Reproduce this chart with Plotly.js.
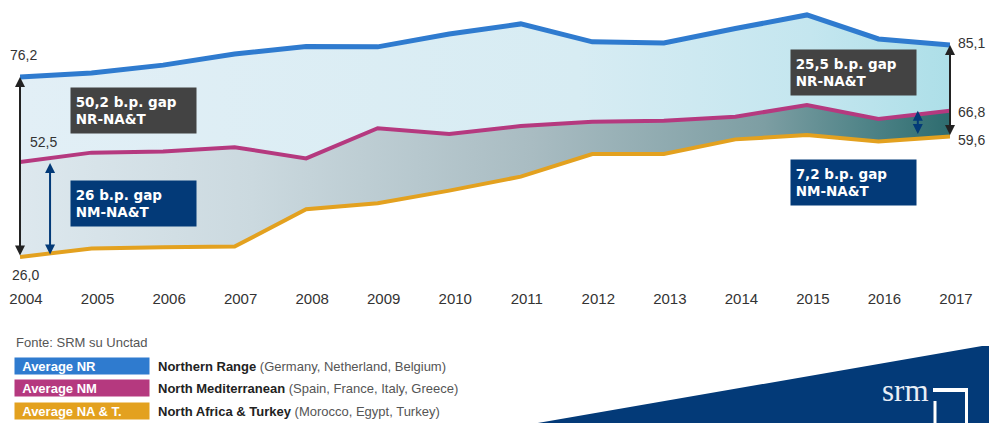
<!DOCTYPE html>
<html>
<head>
<meta charset="utf-8">
<script src="https://cdn.plot.ly/plotly-3.0.1.min.js"></script>
<style>html,body{margin:0;padding:0;background:#fff;}#chart{width:989px;height:423px;}</style>
</head>
<body>
<div id="chart"></div>
<script>
var years = [2004,2005,2006,2007,2008,2009,2010,2011,2012,2013,2014,2015,2016,2017];
var tickLabels = years.map(String);
var nr  = [76.2,77.3,79.5,82.6,84.7,84.6,88.2,91.0,86.0,85.7,89.7,93.5,86.8,85.1];
var nm  = [52.5,55.1,55.4,56.6,53.5,61.9,60.3,62.5,63.7,64.0,65.1,68.4,64.5,66.8];
var nat = [26.0,28.4,28.7,28.9,39.3,41.0,44.5,48.4,54.7,54.7,58.8,60.0,58.2,59.6];
var gapLabels = ["50,2 b.p. gap","NR-NA&T","26 b.p. gap","NM-NA&T","25,5 b.p. gap","NR-NA&T","7,2 b.p. gap","NM-NA&T"];
var legendTags = ["Average NR","Average NM","Average NA & T."];
var legendNames = ["Northern Range","North Mediterranean","North Africa & Turkey"];
var legendCountries = ["(Germany, Netherland, Belgium)","(Spain, France, Italy, Greece)","(Morocco, Egypt, Turkey)"];
var source = "Fonte: SRM su Unctad";

var cNR = '#2f7bcf', cNM = '#b5397f', cNAT = '#e3a11f', navy = '#033a78', dgray = '#434343';

function esc(s){return s.replace(/&/g,'&amp;');}
function fmt(v){return v.toFixed(1).replace('.',',');}
// pixel -> paper helpers (plot area: x 20..950, y 5..285)
function px(x){return (x-20)/930;}
function py(y){return (285-y)/280;}

var last = years.length-1;

var traces = [
  {x:years, y:nat, mode:'lines', line:{color:cNAT, width:4}, hoverinfo:'skip'},
  {x:years, y:nm, mode:'lines', line:{color:cNM, width:4}, fill:'tonexty',
   fillgradient:{type:'horizontal', colorscale:[[0,'#dde8ee'],[0.25,'#cbd9df'],[0.55,'#a9bcc2'],[0.8,'#7d9ea3'],[0.92,'#4b8185'],[1,'#2e6c6f']]},
   hoverinfo:'skip'},
  {x:years, y:nr, mode:'lines', line:{color:cNR, width:5}, fill:'tonexty',
   fillgradient:{type:'horizontal', colorscale:[[0,'#e2eff6'],[0.6,'#d7ecf3'],[0.85,'#c4e6ef'],[1,'#addfe8']]},
   hoverinfo:'skip'}
];

var ann = [];
// value labels
ann.push({x:years[0], y:nr[0], text:fmt(nr[0]), xanchor:'left', yanchor:'bottom', xshift:-12, yshift:12});
ann.push({x:years[0], y:nm[0], text:fmt(nm[0]), xanchor:'left', yanchor:'bottom', xshift:8, yshift:10});
ann.push({x:years[0], y:nat[0], text:fmt(nat[0]), xanchor:'left', yanchor:'top', xshift:-10, yshift:-8});
ann.push({x:years[last], y:nr[last], text:fmt(nr[last]), xanchor:'left', yanchor:'middle', xshift:6, yshift:2});
ann.push({x:years[last], y:nm[last], text:fmt(nm[last]), xanchor:'left', yanchor:'middle', xshift:6, yshift:-1});
ann.push({x:years[last], y:nat[last], text:fmt(nat[last]), xanchor:'left', yanchor:'middle', xshift:6, yshift:-3});
ann.forEach(function(a){a.showarrow=false; a.font={family:'Liberation Sans, Arial', size:14, color:'#333'};});

// arrows
function arrow(x, y0, y1, col, w){
  ann.push({x:x, y:y0, ax:x, ay:y1, xref:'x', yref:'y', axref:'x', ayref:'y', text:'',
    showarrow:true, arrowhead:2, startarrowhead:2, arrowside:'end+start', arrowsize:1,
    arrowwidth:w, arrowcolor:col, standoff:0, startstandoff:0});
}
arrow(years[0], nr[0], nat[0], '#222', 2);
arrow(years[0]+0.42, nm[0]-0.3, nat[0]+0.3, navy, 2);
arrow(years[last], nr[last], nat[last], '#222', 2);
arrow(years[last]-0.45, nm[last], nat[last]+0.3, navy, 2);

// gap boxes
function box(x, y, l1, l2, bg){
  ann.push({xref:'paper', yref:'paper', x:px(x), y:py(y), xanchor:'left', yanchor:'top',
    text:'<b>&nbsp;'+esc(l1)+'<br>&nbsp;'+esc(l2)+'</b>', align:'left', showarrow:false,
    width:125, height:45, bgcolor:bg, borderpad:0,
    font:{family:'DejaVu Sans, Verdana', size:13.5, color:'#fff'}});
}
box(70, 87, gapLabels[0], gapLabels[1], dgray);
box(70, 180, gapLabels[2], gapLabels[3], navy);
box(790, 49, gapLabels[4], gapLabels[5], dgray);
box(790, 159, gapLabels[6], gapLabels[7], navy);

// source + legend
ann.push({xref:'paper', yref:'paper', x:px(14), y:py(342), xanchor:'left', yanchor:'middle', text:source,
  showarrow:false, font:{family:'Liberation Sans, Arial', size:13, color:'#555'}});
var legCols = [cNR, cNM, cNAT];
var legY = [366, 388, 411];
for (var i=0;i<3;i++){
  ann.push({xref:'paper', yref:'paper', x:px(14), y:py(legY[i]), xanchor:'left', yanchor:'middle',
    text:'<b>&nbsp;&nbsp;'+esc(legendTags[i])+'</b>', align:'left', showarrow:false, width:134, height:16,
    bgcolor:legCols[i], borderpad:0, font:{family:'Liberation Sans, Arial', size:13, color:'#fff'}});
  ann.push({xref:'paper', yref:'paper', x:px(156), y:py(legY[i]), xanchor:'left', yanchor:'middle',
    text:'<b>'+esc(legendNames[i])+'</b> <span style="color:#555">'+legendCountries[i]+'</span>', showarrow:false,
    font:{family:'Liberation Sans, Arial', size:13, color:'#222'}});
}
// logo text
ann.push({xref:'paper', yref:'paper', x:px(931), y:py(410), xanchor:'right', yanchor:'bottom', text:'srm',
  showarrow:false, font:{family:'Liberation Serif, DejaVu Serif', size:31, color:'#e8eef6'}});

var W = 'rgba(0,0,0,0)';
var shapes = [
  {type:'path', xref:'paper', yref:'paper', layer:'above',
   path:'M '+px(532)+' '+py(424)+' L '+px(982)+' '+py(346)+' L '+px(990)+' '+py(346)+' L '+px(990)+' '+py(424)+' Z',
   fillcolor:navy, line:{width:0}},
  {type:'rect', xref:'paper', yref:'paper', layer:'above', x0:px(933), x1:px(968), y0:py(392), y1:py(388),
   line:{width:0}, fillcolor:'#fff'},
  {type:'line', xref:'paper', yref:'paper', layer:'above', x0:px(966.5), x1:px(966.5), y0:py(390), y1:py(424),
   line:{color:'#fff', width:3}},
  {type:'line', xref:'paper', yref:'paper', layer:'above', x0:px(935), x1:px(935), y0:py(401), y1:py(424),
   line:{color:'#fff', width:3}}
];

var layout = {
  width:989, height:423,
  margin:{l:20, r:39, t:5, b:138, pad:0},
  paper_bgcolor:'#fff', plot_bgcolor:'#fff',
  showlegend:false, hovermode:false,
  xaxis:{range:[2004,2017], tickvals:years, ticktext:tickLabels, showgrid:false, zeroline:false,
    showline:false, ticks:'', ticklabelshift:6, ticklabelstandoff:3,
    tickfont:{family:'Liberation Sans, Arial', size:15, color:'#333'}, fixedrange:true},
  yaxis:{range:[18.19,96.27], visible:false, showgrid:false, zeroline:false, fixedrange:true},
  annotations:ann, shapes:shapes
};

Plotly.newPlot('chart', traces, layout, {displayModeBar:false, staticPlot:true});
</script>
</body>
</html>
